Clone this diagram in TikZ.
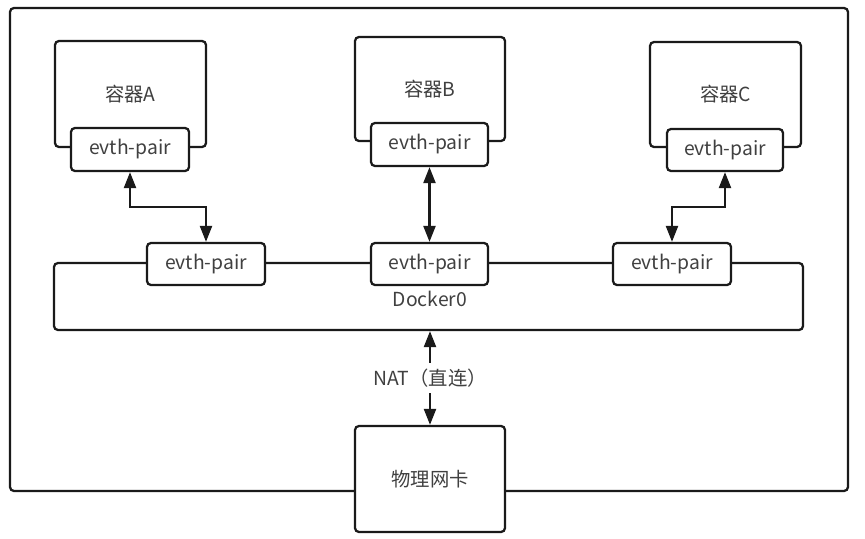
\documentclass[tikz,border=0pt]{standalone}
\usepackage{fontspec}
\setmainfont{Noto Sans CJK SC}
\usetikzlibrary{arrows.meta}
\definecolor{txt}{HTML}{404040}
\definecolor{ln}{HTML}{1A1A1A}
\tikzset{
  box/.style={draw=ln,line width=1.7pt,rounded corners=3pt,fill=white,text=txt,font=\fontsize{14.5pt}{17pt}\selectfont,inner sep=0pt},
  lbl/.style={text=txt,font=\fontsize{14.5pt}{17pt}\selectfont,inner sep=0pt},
  arr/.style={draw=ln,line width=1.7pt,{Triangle[width=9pt,length=12pt]}-{Triangle[width=9pt,length=12pt]}}
}
\begin{document}
\begin{tikzpicture}[x=0.75pt,y=-0.75pt]
\useasboundingbox (0,0) rectangle (865,539);
% outer frame
\node[box,minimum width=628.5pt,minimum height=362.25pt] (outer) at (429,249.5) {};
% containers
\node[box,minimum width=113.25pt,minimum height=79.5pt] (cA) at (130.5,94) {};
\node[lbl] at (cA.center) {容器A};
\node[box,minimum width=112.5pt,minimum height=78pt] (cB) at (430,89) {};
\node[lbl] at (cB.center) {容器B};
\node[box,minimum width=113.25pt,minimum height=78.75pt] (cC) at (725.5,94.5) {};
\node[lbl] at (cC.center) {容器C};
\node[box,minimum width=88.5pt,minimum height=32.25pt] (eA) at (130,149.5) {evth-pair};
\node[box,minimum width=87.75pt,minimum height=32.25pt] (eB) at (429.5,144.5) {evth-pair};
\node[box,minimum width=87pt,minimum height=31.5pt] (eC) at (725,150) {evth-pair};
% docker0 bridge
\node[box,minimum width=561.75pt,minimum height=50.25pt] (dk) at (428.5,296.5) {};
\node[lbl] (dklbl) at (430,299) {Docker0};
\node[box,minimum width=88.5pt,minimum height=31.5pt] (bL) at (206,264) {evth-pair};
\node[box,minimum width=87.75pt,minimum height=31.5pt] (bM) at (429.5,264) {evth-pair};
\node[box,minimum width=88.5pt,minimum height=31.5pt] (bR) at (672,264) {evth-pair};
% physical NIC
\node[box,minimum width=112.5pt,minimum height=79.5pt] (nic) at (430,479) {物理网卡};
% connectors
\coordinate (mA) at (170,207);
\coordinate (mC) at (700,207);
\draw[arr] (eA.south) |- (mA) -| (bL.north);
\draw[arr] (eB.south) -- (bM.north);
\draw[arr] (eC.south) |- (mC) -| (bR.north);
\draw[arr] (dk.south -| nic.north) -- node[lbl,fill=white,inner ysep=4pt,inner xsep=2pt] {NAT（直连）} (nic.north);
\end{tikzpicture}
\end{document}
